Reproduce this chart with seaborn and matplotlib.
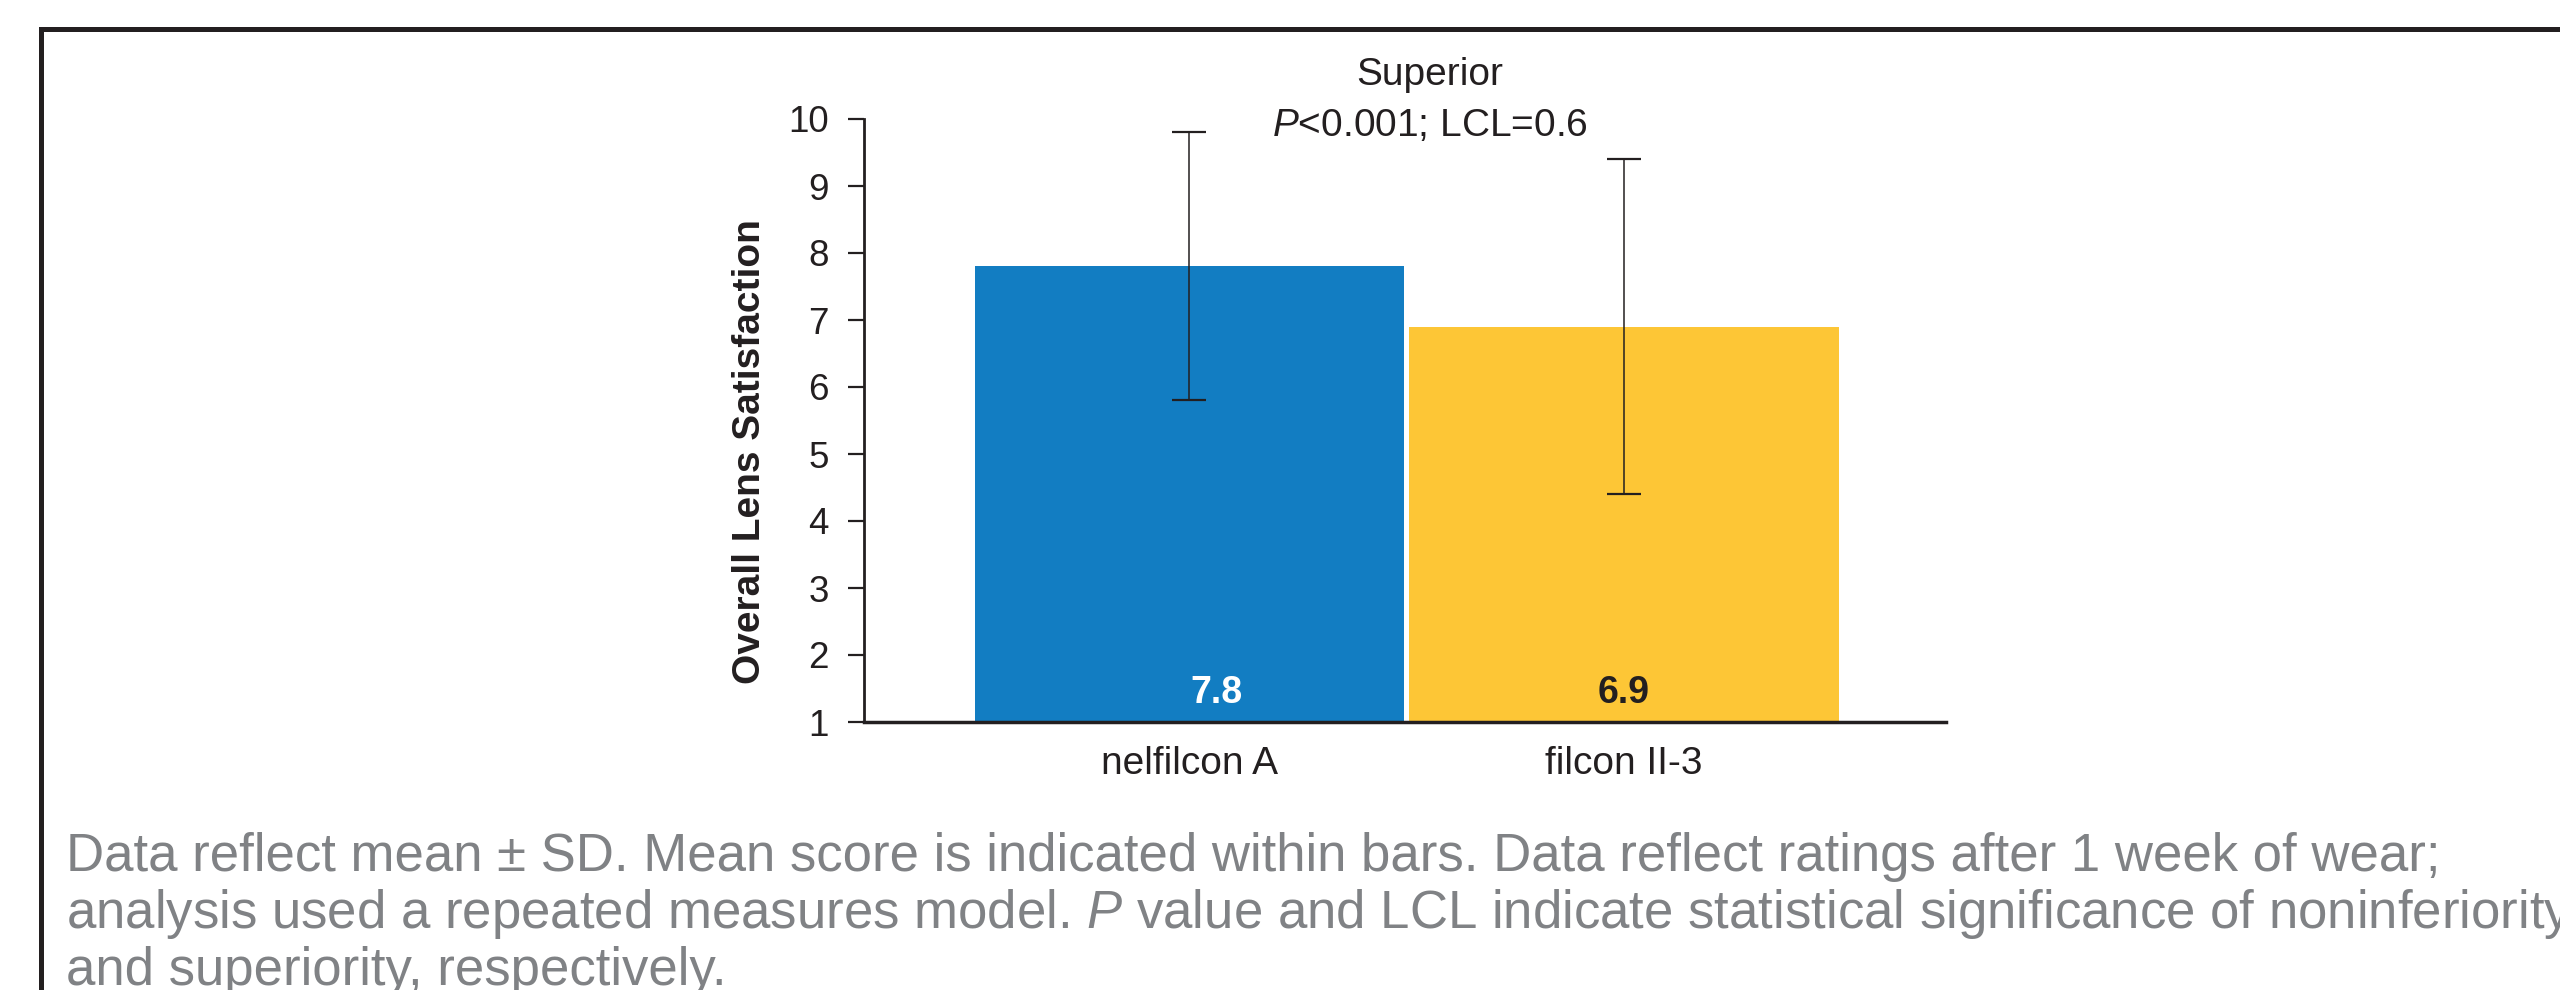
import matplotlib
matplotlib.use("Agg")
import matplotlib.pyplot as plt
from matplotlib.lines import Line2D
import seaborn as sns
import pandas as pd

# ---- data ----
categories = ["nelfilcon A", "filcon II-3"]
means = [7.8, 6.9]
sds = [2.0, 2.5]
mean_labels = ["7.8", "6.9"]
y_ticks = [1, 2, 3, 4, 5, 6, 7, 8, 9, 10]
y_label = "Overall Lens Satisfaction"
annotation_lines = ["Superior", r"$\mathit{P}$<0.001; LCL=0.6"]
caption_lines = [
    "Data reflect mean \u00b1 SD. Mean score is indicated within bars. Data reflect ratings after 1 week of wear;",
    r"analysis used a repeated measures model. $\mathit{P}$ value and LCL indicate statistical significance of noninferiority",
    "and superiority, respectively.",
]

# ---- style ----
bar_colors = ["#127DC2", "#FDC636"]
label_colors = ["#FFFFFF", "#231F20"]
dark = "#231F20"
grey = "#808285"

sns.set_theme(style="white")
plt.rcParams["font.family"] = ["Liberation Sans", "DejaVu Sans"]
plt.rcParams["mathtext.fontset"] = "custom"
plt.rcParams["mathtext.rm"] = "Liberation Sans"
plt.rcParams["mathtext.it"] = "Liberation Sans:italic"

W, H = 2560, 990
fig = plt.figure(figsize=(W / 100, H / 100), dpi=100)
fig.patch.set_facecolor("white")

ax_left, ax_right, ax_top, ax_bottom = 864, 1946, 119, 722
ax = fig.add_axes([ax_left / W, 1 - ax_bottom / H, (ax_right - ax_left) / W, (ax_bottom - ax_top) / H])
ax.set_facecolor("white")

df = pd.DataFrame({"lens": categories, "score": means})
sns.barplot(data=df, x="lens", y="score", hue="lens", palette=bar_colors,
            width=0.988, saturation=1, errorbar=None, legend=False,
            linewidth=0, edgecolor="none", ax=ax)

ax.errorbar(x=list(range(len(categories))), y=means, yerr=sds, fmt="none",
            ecolor=dark, elinewidth=1.1, capsize=12, capthick=1.6, zorder=5)

ax.set_ylim(1, 10)
ax.set_xlim(-0.749, 1.741)
ax.set_yticks(y_ticks)
ax.set_yticklabels([str(t) for t in y_ticks])

for s in ["top", "right"]:
    ax.spines[s].set_visible(False)
ax.spines["left"].set_linewidth(2.0)
ax.spines["left"].set_color(dark)
ax.spines["bottom"].set_linewidth(2.5)
ax.spines["bottom"].set_color(dark)

ax.tick_params(axis="y", left=True, length=11.5, width=1.6, color=dark, pad=14,
               labelsize=26.5, labelcolor=dark)
ax.tick_params(axis="x", bottom=False, length=0, pad=17, labelsize=28, labelcolor=dark)

ax.set_xlabel("")
ax.set_ylabel(y_label, fontsize=28, fontweight="bold", color=dark)
ax.yaxis.set_label_coords((768 - ax_left) / (ax_right - ax_left), (ax_bottom - 452) / (ax_bottom - ax_top))

# mean labels inside bars
label_x_offsets = [0.061, 0.0]
for i, (lab, col) in enumerate(zip(mean_labels, label_colors)):
    ax.text(i + label_x_offsets[i], 1.28, lab, ha="center", va="baseline",
            fontsize=27, fontweight="bold", color=col, zorder=6)

# significance annotation
ax.text(0.553, 10.66, annotation_lines[0], ha="center", va="center", fontsize=28, color=dark)
ax.text(0.553, 9.90, annotation_lines[1], ha="center", va="center", fontsize=28, color=dark)

# caption
for k, line in enumerate(caption_lines):
    fig.text(66 / W, 1 - (871 + 57 * k) / H, line, ha="left", va="baseline",
             fontsize=38, color=grey)

# panel border (top and left edges)
top_y = 1 - 28.5 / H
left_x = 40.5 / W
fig.add_artist(Line2D([left_x, 1.0], [top_y, top_y], transform=fig.transFigure,
                      color=dark, lw=3.6, solid_capstyle="projecting"))
fig.add_artist(Line2D([left_x, left_x], [top_y, -0.01], transform=fig.transFigure,
                      color=dark, lw=3.6, solid_capstyle="projecting"))

fig.savefig("out.png", dpi=100, facecolor="white")
